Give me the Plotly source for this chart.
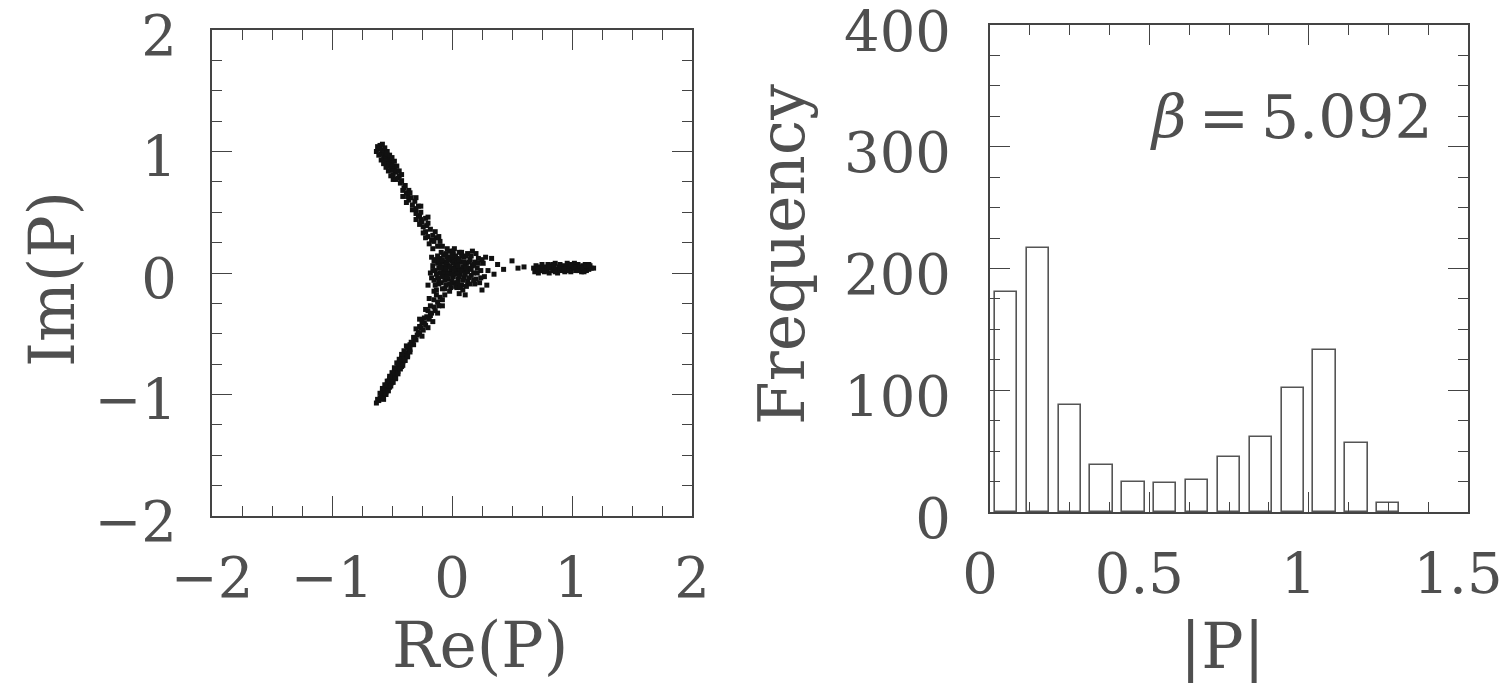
import plotly.graph_objects as go

# ---------------- data ----------------
# Left panel: Polyakov loop P in the complex plane
core_re = [-0.14,-0.12,-0.12,-0.10,-0.10,-0.09,-0.08,-0.07,-0.07,-0.06,-0.05,-0.05,-0.04,-0.03,-0.03,-0.02,-0.02,-0.01,0.00,0.00,
           0.01,0.01,0.02,0.03,0.03,0.04,0.05,0.05,0.06,0.07,0.07,0.08,0.09,0.10,0.10,0.11,0.12,0.13,0.14,0.15,
           0.16,0.17,0.18,0.19,0.20,0.21,0.22,0.24,0.26,0.27,-0.13,-0.11,-0.09,-0.08,-0.06,-0.04,-0.02,0.00,0.02,0.04,
           0.06,0.08,0.09,0.12,0.13,-0.15,-0.16,-0.11,-0.05,0.01,-0.01,0.04,0.07,-0.07,-0.03,0.02,-0.09,0.11,0.15,0.19,
           0.23,0.28,0.30,0.29,0.25,0.17,0.20,0.06,0.11,-0.13,-0.18,-0.17,-0.20,
           -0.15,-0.13,-0.12,-0.11,-0.10,-0.08,-0.08,-0.06,-0.06,-0.05,-0.04,-0.04,-0.02,-0.02,-0.01,0.00,0.01,0.02,0.03,0.03,
           0.04,0.05,0.06,0.06,0.08,0.08,0.09,0.10,0.11,0.12,0.13,0.14,0.14,0.16,0.16,0.18,0.18,0.21,0.22,0.24,
           0.25,-0.14,-0.16,-0.17,0.00,-0.09,0.05,-0.03,0.07,0.12]
core_im = [0.02,0.08,-0.04,0.12,0.00,-0.08,0.05,0.15,-0.02,0.09,-0.10,0.02,0.13,-0.05,0.06,0.18,0.00,-0.12,0.10,0.04,
           -0.03,0.15,-0.08,0.07,0.01,0.12,-0.05,0.04,0.17,-0.01,0.09,-0.10,0.05,0.13,-0.04,0.02,0.08,-0.07,0.04,0.11,
           -0.02,0.06,0.00,0.09,-0.05,0.04,0.12,0.02,0.08,-0.03,0.11,-0.09,0.17,-0.13,-0.06,0.20,-0.15,-0.07,0.20,-0.12,
           0.00,0.14,-0.14,-0.11,0.16,-0.06,0.06,0.04,0.07,0.08,0.03,-0.01,0.03,0.01,-0.01,0.11,0.09,0.07,-0.09,-0.09,
           -0.08,0.13,0.02,-0.10,-0.14,0.18,0.16,-0.17,-0.18,-0.14,0.00,0.13,-0.10,
           0.10,-0.01,0.14,-0.06,0.06,-0.03,0.11,0.03,-0.13,0.16,-0.03,0.09,0.05,-0.09,0.13,-0.01,0.18,0.03,-0.11,0.14,
           0.08,-0.08,0.11,-0.03,0.02,0.17,-0.06,0.09,-0.01,0.14,0.01,-0.04,0.09,0.03,0.14,-0.06,0.07,0.00,0.08,-0.04,
           0.11,-0.10,0.02,-0.04,0.15,0.04,0.06,0.11,-0.12,0.04]

upper_re = [-0.12,-0.16,-0.10,-0.17,-0.13,-0.19,-0.16,-0.20,-0.14,-0.22,-0.18,-0.21,-0.24,-0.20,-0.25,-0.26,-0.22,-0.27,
            -0.28,-0.26,-0.30,-0.30,-0.28,-0.33,-0.31,-0.36,-0.34,-0.37,-0.38,-0.36,-0.40,-0.41,-0.39,-0.43,-0.42,
            -0.45,-0.44,-0.47,-0.47,-0.49,-0.46,-0.48,-0.50,-0.51,-0.49,-0.52,-0.50,-0.53,-0.52,-0.54,-0.55,-0.53,
            -0.55,-0.56,-0.54,-0.57,-0.55,-0.58,-0.57,-0.59,-0.58,-0.60,-0.61,-0.60,-0.62,
            -0.42,-0.44,-0.46,-0.48,-0.50,-0.52,-0.54,-0.56,-0.58,-0.49,-0.51,-0.53,-0.55,-0.57,-0.59,-0.61,-0.63,
            -0.33,-0.38,-0.27,-0.30,-0.22,-0.24,-0.35,-0.41,-0.15,-0.11,-0.08,-0.20,-0.26,-0.30]
upper_im = [0.22,0.20,0.26,0.27,0.29,0.24,0.31,0.30,0.34,0.34,0.36,0.39,0.38,0.41,0.42,0.44,0.45,0.47,
            0.47,0.50,0.49,0.53,0.55,0.56,0.59,0.60,0.62,0.63,0.66,0.68,0.70,0.68,0.72,0.74,0.76,
            0.78,0.80,0.77,0.83,0.81,0.84,0.85,0.87,0.85,0.88,0.88,0.90,0.91,0.93,0.90,0.92,0.94,
            0.95,0.94,0.97,0.96,0.98,0.99,1.00,0.98,1.01,1.03,1.02,1.05,1.04,
            0.81,0.84,0.88,0.92,0.95,0.97,1.00,1.03,1.06,0.77,0.80,0.84,0.87,0.90,0.93,0.97,1.00,
            0.52,0.58,0.40,0.44,0.29,0.33,0.66,0.63,0.26,0.30,0.22,0.46,0.55,0.62]

lower_re = [-0.10,-0.13,-0.08,-0.12,-0.15,-0.11,-0.15,-0.18,-0.14,-0.17,-0.20,-0.18,-0.21,-0.19,-0.23,-0.23,-0.25,-0.22,
            -0.26,-0.24,-0.27,-0.28,-0.29,-0.27,-0.31,-0.30,-0.32,-0.33,-0.34,-0.32,-0.35,-0.36,-0.35,-0.37,-0.36,
            -0.38,-0.39,-0.37,-0.40,-0.41,-0.40,-0.42,-0.41,-0.43,-0.43,-0.44,-0.42,-0.45,-0.44,-0.46,-0.47,-0.45,
            -0.48,-0.46,-0.48,-0.49,-0.47,-0.50,-0.49,-0.51,-0.52,-0.50,-0.53,-0.51,-0.53,-0.54,-0.52,-0.55,-0.54,
            -0.56,-0.57,-0.55,-0.58,-0.58,-0.59,-0.60,-0.58,-0.61,-0.62,-0.63,
            -0.38,-0.40,-0.42,-0.44,-0.46,-0.48,-0.50,-0.52,-0.54,-0.56,-0.58,-0.60,-0.35,-0.37,-0.39,-0.41,-0.43,
            -0.45,-0.47,-0.49,-0.51,-0.53,-0.55,-0.57,
            -0.08,-0.12,-0.22,-0.16,-0.27,-0.20,-0.30,-0.25,-0.06,-0.15,-0.19]
lower_im = [-0.20,-0.18,-0.22,-0.24,-0.22,-0.27,-0.28,-0.27,-0.31,-0.33,-0.31,-0.35,-0.36,-0.38,-0.37,-0.41,-0.40,-0.43,
            -0.45,-0.47,-0.44,-0.49,-0.51,-0.50,-0.54,-0.55,-0.53,-0.58,-0.57,-0.59,-0.59,-0.62,-0.63,-0.61,-0.64,
            -0.67,-0.66,-0.68,-0.68,-0.71,-0.72,-0.70,-0.73,-0.72,-0.75,-0.74,-0.77,-0.76,-0.77,-0.80,-0.79,-0.81,
            -0.81,-0.82,-0.84,-0.83,-0.86,-0.85,-0.86,-0.88,-0.87,-0.90,-0.89,-0.91,-0.93,-0.92,-0.94,-0.94,-0.95,
            -0.97,-0.96,-0.98,-0.98,-1.01,-1.00,-1.03,-1.03,-1.05,-1.04,-1.07,
            -0.60,-0.64,-0.67,-0.71,-0.74,-0.78,-0.82,-0.85,-0.89,-0.92,-0.95,-0.99,-0.65,-0.69,-0.72,-0.76,-0.79,
            -0.83,-0.87,-0.90,-0.93,-0.97,-1.00,-1.04,
            -0.27,-0.33,-0.30,-0.40,-0.38,-0.45,-0.46,-0.52,-0.18,-0.15,-0.21]

right_re = [0.68,0.69,0.70,0.71,0.72,0.73,0.74,0.75,0.76,0.77,0.78,0.79,0.80,0.81,0.82,0.83,0.84,0.85,0.86,0.87,
            0.88,0.89,0.90,0.91,0.92,0.93,0.94,0.95,0.96,0.97,0.98,0.99,1.00,1.01,1.02,1.03,1.04,1.05,1.06,1.07,
            1.08,1.09,1.10,1.11,1.12,1.13,1.14,1.15,1.16,1.18,0.72,0.78,0.84,0.90,0.96,1.02,1.08,1.12,0.86,0.99,
            1.05,0.93,0.81,0.75,1.10,1.14]
right_im = [0.04,0.01,0.06,0.03,0.00,0.05,0.02,0.07,0.04,0.01,0.05,0.03,0.07,0.00,0.04,0.06,0.02,0.05,0.08,0.03,
            0.00,0.05,0.07,0.02,0.04,0.06,0.01,0.05,0.08,0.03,0.05,0.01,0.06,0.04,0.08,0.02,0.05,0.07,0.03,0.05,
            0.01,0.06,0.04,0.07,0.02,0.05,0.03,0.06,0.04,0.04,0.03,0.02,0.07,0.04,0.02,0.05,0.04,0.06,0.01,0.07,
            0.02,0.03,0.05,0.02,0.01,0.07]

sparse_re = [0.33, 0.35, 0.43, 0.50, 0.60, 0.55, 0.38]
sparse_im = [0.12, -0.01, 0.03, 0.10, 0.05, 0.04, 0.07]

# Right panel: histogram of |P|
bin_centers = [0.05, 0.15, 0.25, 0.35, 0.45, 0.55, 0.65, 0.75, 0.85, 0.95, 1.05, 1.15, 1.25]
frequency = [181, 217, 88, 39, 25, 24, 26, 45, 62, 102, 133, 57, 7]

x2_tickvals = [0, 0.5, 1, 1.5]
x2_ticktext = ["0", "0.5", "1", "1.5"]

# ---------------- figure ----------------
W, H = 1506, 684
FONT = "DejaVu Serif"
TXT = "#4f4f4f"
LINE = "#444444"
FS = 56

def px(x):
    return x / W

def py(y):
    return 1 - y / H

fig = go.Figure()

re_all = core_re + upper_re + lower_re + right_re + sparse_re
im_all = core_im + upper_im + lower_im + right_im + sparse_im
fig.add_trace(go.Scatter(x=re_all, y=im_all, mode="markers",
                         marker=dict(size=5, color="#111111", symbol="square", line=dict(width=0)),
                         xaxis="x", yaxis="y", showlegend=False, hoverinfo="skip"))

fig.add_trace(go.Bar(x=bin_centers, y=frequency, width=0.07,
                     marker=dict(color="white", line=dict(color="#555555", width=1.6)),
                     xaxis="x2", yaxis="y2", showlegend=False))

common = dict(showline=True, linecolor=LINE, linewidth=1.6, mirror="ticks", ticks="inside",
              tickcolor=LINE, tickwidth=1.4, ticklen=20, showgrid=False, zeroline=False,
              automargin=False, ticklabeloverflow="allow",
              tickfont=dict(family=FONT, size=FS, color=TXT))

fig.update_layout(
    width=W, height=H, margin=dict(l=0, r=0, t=0, b=0, autoexpand=False),
    paper_bgcolor="white", plot_bgcolor="white",
    xaxis=dict(domain=[px(212), px(692)], range=[-2, 2], dtick=1, anchor="y",
               minor=dict(dtick=0.25, ticklen=10, ticks="inside", tickcolor=LINE, tickwidth=1.2),
               ticklabelstandoff=12, **common),
    yaxis=dict(domain=[py(516), py(30)], range=[-2, 2], dtick=1, anchor="x",
               minor=dict(dtick=0.25, ticklen=10, ticks="inside", tickcolor=LINE, tickwidth=1.2),
               ticklabelstandoff=22, ticklabelshift=5, **common),
    xaxis2=dict(domain=[px(990), px(1468)], range=[0, 1.5], tickvals=x2_tickvals, ticktext=x2_ticktext,
                anchor="y2",
                minor=dict(dtick=0.125, ticklen=10, ticks="inside", tickcolor=LINE, tickwidth=1.2),
                ticklabelstandoff=12, ticklabelshift=-10, **common),
    yaxis2=dict(domain=[py(512), py(25)], range=[0, 400], dtick=100, anchor="x2",
                minor=dict(dtick=25, ticklen=10, ticks="inside", tickcolor=LINE, tickwidth=1.2),
                ticklabelstandoff=26, ticklabelshift=6, **common),
    bargap=0,
)

ann_font = dict(family=FONT, size=63, color=TXT)
for text, x, y, ang in [("Im(P)", 52, 279, -90), ("Re(P)", 480, 645, 0),
                        ("Frequency", 783, 255, -90), ("|P|", 1222, 646, 0)]:
    fig.add_annotation(text=text, x=px(x), y=py(y), xref="paper", yref="paper",
                       xanchor="center", yanchor="middle", textangle=ang,
                       showarrow=False, font=ann_font)
fig.add_annotation(text="<i>β</i>\u2009=\u20095.092", x=px(1291), y=py(117), xref="paper", yref="paper",
                   xanchor="center", yanchor="middle",
                   showarrow=False, font=dict(family=FONT, size=60, color=TXT))

fig.write_html("out.html", config={"displayModeBar": False},
               post_script="document.body.style.margin='0';document.body.style.overflow='hidden';")
